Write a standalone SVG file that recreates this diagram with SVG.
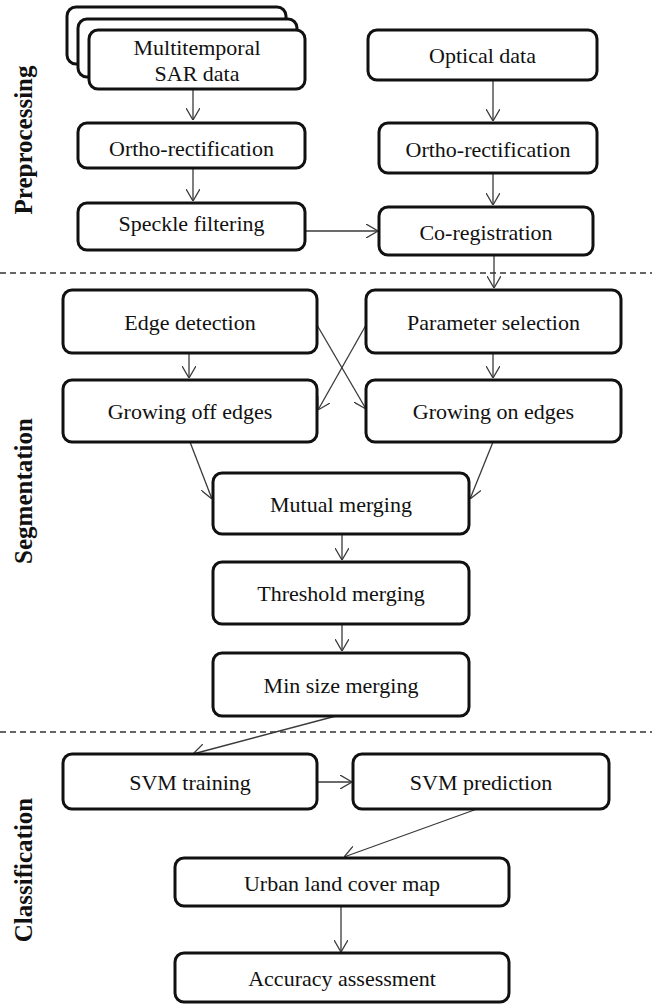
<svg xmlns="http://www.w3.org/2000/svg" width="652" height="1004" viewBox="0 0 652 1004">
  <style>
    .box { fill: #ffffff; stroke: #111111; stroke-width: 3; }
    .lbl { font-family: "Liberation Serif", "Times New Roman", serif; font-size: 22px; fill: #111111; text-anchor: middle; }
    .phase { font-family: "Liberation Serif", "Times New Roman", serif; font-size: 25px; font-weight: bold; fill: #111111; text-anchor: middle; }
    .conn { fill: none; stroke: #3a3a3a; stroke-width: 1.3; marker-end: url(#arrow); }
    .sep { fill: none; stroke: #333333; stroke-width: 1.3; stroke-dasharray: 6 4; }
  </style>
  <defs>
    <marker id="arrow" viewBox="0 0 12 14" refX="12" refY="7" markerWidth="12" markerHeight="14" markerUnits="userSpaceOnUse" orient="auto">
      <path d="M0,0 L12,7 L0,14" fill="none" stroke="#3a3a3a" stroke-width="1.3"/>
    </marker>
  </defs>

  <rect width="652" height="1004" fill="#ffffff"/>

  <!-- phase separators -->
  <g id="separators">
    <line class="sep" x1="0" y1="273" x2="652" y2="273"/>
    <line class="sep" x1="0" y1="732" x2="652" y2="732"/>
  </g>

  <!-- phase labels -->
  <g id="phase-labels">
    <text class="phase" transform="translate(32,140) rotate(-90)">Preprocessing</text>
    <text class="phase" transform="translate(32,491) rotate(-90)">Segmentation</text>
    <text class="phase" transform="translate(32,870) rotate(-90)">Classification</text>
  </g>

  <!-- connectors -->
  <g id="connectors">
    <line class="conn" x1="193" y1="89" x2="193" y2="120"/>
    <line class="conn" x1="193" y1="168" x2="193" y2="201"/>
    <line class="conn" x1="493" y1="80" x2="493" y2="121"/>
    <line class="conn" x1="493" y1="173" x2="493" y2="205"/>
    <line class="conn" x1="305" y1="231" x2="378" y2="231"/>
    <line class="conn" x1="494" y1="255" x2="494" y2="288"/>
    <line class="conn" x1="189" y1="353" x2="189" y2="378"/>
    <line class="conn" x1="493" y1="353" x2="493" y2="378"/>
    <line class="conn" x1="317" y1="325" x2="366" y2="409"/>
    <line class="conn" x1="366" y1="325" x2="318" y2="410"/>
    <line class="conn" x1="190" y1="442" x2="212" y2="499"/>
    <line class="conn" x1="493" y1="442" x2="470" y2="499"/>
    <line class="conn" x1="342" y1="534" x2="342" y2="560"/>
    <line class="conn" x1="342" y1="624" x2="342" y2="651"/>
    <line class="conn" x1="336" y1="716" x2="193" y2="754"/>
    <line class="conn" x1="317" y1="782" x2="352" y2="782"/>
    <line class="conn" x1="477" y1="809" x2="344" y2="857"/>
    <line class="conn" x1="341" y1="906" x2="341" y2="952"/>
  </g>

  <!-- multitemporal SAR stack -->
  <g id="sar-data">
    <rect class="box" x="67" y="7" width="219" height="57" rx="9"/>
    <rect class="box" x="78" y="19" width="219" height="58" rx="9"/>
    <rect class="box" x="89" y="30" width="216" height="59" rx="9"/>
    <text class="lbl" x="197" y="55">Multitemporal</text>
    <text class="lbl" x="197" y="81">SAR data</text>
  </g>

  <g id="optical-data">
    <rect class="box" x="368" y="30" width="229" height="50" rx="9"/>
    <text class="lbl" x="482.5" y="63">Optical data</text>
  </g>

  <g id="ortho-sar">
    <rect class="box" x="78" y="123" width="227" height="45" rx="9"/>
    <text class="lbl" x="191.5" y="156">Ortho-rectification</text>
  </g>

  <g id="ortho-optical">
    <rect class="box" x="379" y="123" width="218" height="50" rx="9"/>
    <text class="lbl" x="488" y="157">Ortho-rectification</text>
  </g>

  <g id="speckle-filtering">
    <rect class="box" x="78" y="203" width="227" height="47" rx="9"/>
    <text class="lbl" x="191.5" y="231">Speckle  filtering</text>
  </g>

  <g id="co-registration">
    <rect class="box" x="379" y="207" width="214" height="48" rx="9"/>
    <text class="lbl" x="486" y="240">Co-registration</text>
  </g>

  <g id="edge-detection">
    <rect class="box" x="63" y="290" width="254" height="63" rx="9"/>
    <text class="lbl" x="190" y="330">Edge detection</text>
  </g>

  <g id="parameter-selection">
    <rect class="box" x="366" y="290" width="255" height="63" rx="9"/>
    <text class="lbl" x="493.5" y="330">Parameter  selection</text>
  </g>

  <g id="growing-off-edges">
    <rect class="box" x="63" y="380" width="254" height="62" rx="9"/>
    <text class="lbl" x="190" y="419">Growing off edges</text>
  </g>

  <g id="growing-on-edges">
    <rect class="box" x="366" y="380" width="255" height="62" rx="9"/>
    <text class="lbl" x="493.5" y="419">Growing on edges</text>
  </g>

  <g id="mutual-merging">
    <rect class="box" x="213" y="473" width="256" height="61" rx="9"/>
    <text class="lbl" x="341" y="512">Mutual merging</text>
  </g>

  <g id="threshold-merging">
    <rect class="box" x="213" y="562" width="256" height="62" rx="9"/>
    <text class="lbl" x="341" y="601">Threshold  merging</text>
  </g>

  <g id="min-size-merging">
    <rect class="box" x="213" y="653" width="256" height="63" rx="9"/>
    <text class="lbl" x="341" y="693">Min size merging</text>
  </g>

  <g id="svm-training">
    <rect class="box" x="63" y="754" width="254" height="55" rx="9"/>
    <text class="lbl" x="190" y="790">SVM training</text>
  </g>

  <g id="svm-prediction">
    <rect class="box" x="353" y="754" width="256" height="55" rx="9"/>
    <text class="lbl" x="481" y="790">SVM prediction</text>
  </g>

  <g id="urban-land-cover-map">
    <rect class="box" x="175" y="858" width="334" height="48" rx="9"/>
    <text class="lbl" x="342" y="891">Urban  land cover map</text>
  </g>

  <g id="accuracy-assessment">
    <rect class="box" x="175" y="953" width="334" height="49" rx="9"/>
    <text class="lbl" x="342" y="986">Accuracy  assessment</text>
  </g>
</svg>
